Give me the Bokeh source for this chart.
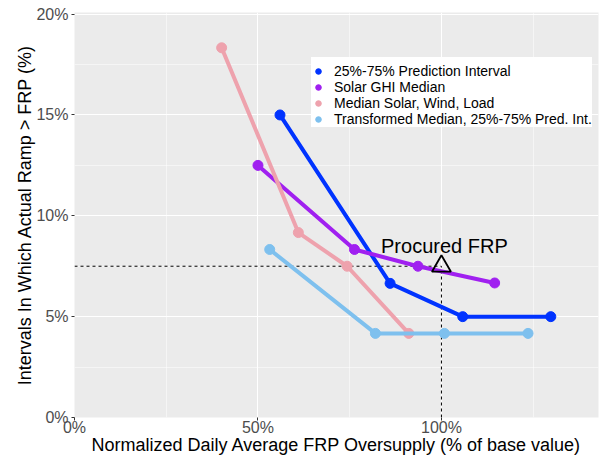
from bokeh.plotting import figure
from bokeh.models import Range1d, FixedTicker, Legend, LegendItem, Label
from bokeh.embed import file_html
from bokeh.resources import INLINE

FONT = "Liberation Sans"

# ---- data ----
series_names = [
    "25%-75% Prediction Interval",
    "Solar GHI Median",
    "Median Solar, Wind, Load",
    "Transformed Median, 25%-75% Pred. Int.",
]
series_colors = ["#0033FF", "#A020F0", "#EEA2AD", "#7EC0EE"]

pi_x = [56.0, 86.0, 105.8, 129.8]
pi_y = [15.0, 6.65, 5.0, 5.0]
ghi_x = [50.0, 76.3, 93.6, 114.5]
ghi_y = [12.5, 8.33, 7.5, 6.67]
swl_x = [40.1, 61.0, 74.3, 91.1]
swl_y = [18.33, 9.17, 7.5, 4.17]
tm_x = [53.2, 82.0, 100.8, 123.6]
tm_y = [8.33, 4.17, 4.17, 4.17]

procured_x = 100.0
procured_y = 7.5
procured_label = "Procured FRP"

x_ticks = [0, 50, 100]
x_tick_labels = ["0%", "50%", "100%"]
x_minor = [25, 75, 125]
y_ticks = [0, 5, 10, 15, 20]
y_tick_labels = ["0%", "5%", "10%", "15%", "20%"]
y_minor = [2.5, 7.5, 12.5, 17.5]

x_title = "Normalized Daily Average FRP Oversupply (% of base value)"
y_title = "Intervals In Which Actual Ramp > FRP (%)"

# ---- figure ----
p = figure(width=613, height=458, output_backend="svg", toolbar_location=None,
           x_range=Range1d(0, 142.8), y_range=Range1d(0, 20.08),
           min_border_left=74, min_border_right=15, min_border_top=12,
           min_border_bottom=41)
p.background_fill_color = "#EBEBEB"
p.border_fill_color = "white"
p.outline_line_color = None

p.xaxis.ticker = FixedTicker(ticks=x_ticks, minor_ticks=x_minor)
p.yaxis.ticker = FixedTicker(ticks=y_ticks, minor_ticks=y_minor)
p.xaxis.major_label_overrides = dict(zip(x_ticks, x_tick_labels))
p.yaxis.major_label_overrides = dict(zip(y_ticks, y_tick_labels))
p.xaxis.axis_label = x_title
p.yaxis.axis_label = y_title

for ax in (p.xaxis, p.yaxis):
    ax.axis_line_color = None
    ax.major_tick_line_color = "#333333"
    ax.major_tick_in = 0
    ax.major_tick_out = 3
    ax.minor_tick_line_color = None
    ax.major_label_text_color = "#4D4D4D"
    ax.major_label_text_font = FONT
    ax.major_label_text_font_size = "16px"
    ax.axis_label_text_font = FONT
    ax.axis_label_text_font_size = "18px"
    ax.axis_label_text_font_style = "normal"
    ax.axis_label_text_color = "black"
p.xaxis.major_label_standoff = -3
p.xaxis.axis_label_standoff = -4
p.yaxis.major_label_standoff = 2
p.yaxis.axis_label_standoff = -2

for g in (p.xgrid, p.ygrid):
    g.grid_line_color = "white"
    g.grid_line_width = 1.1
    g.minor_grid_line_color = "white"
    g.minor_grid_line_width = 0.5

# reference lines
p.line([0, procured_x], [procured_y, procured_y], line_color="black",
       line_width=1, line_dash="3 3")
p.line([procured_x, procured_x], [0, procured_y], line_color="black",
       line_width=1, line_dash="3 3")

series = [(pi_x, pi_y), (ghi_x, ghi_y), (swl_x, swl_y), (tm_x, tm_y)]
items = []
for (xs, ys), name, col in zip(series, series_names, series_colors):
    p.line(xs, ys, line_color=col, line_width=4)
    r = p.circle(xs, ys, radius=5, radius_units="screen", fill_color=col,
                 line_color=col)
    items.append(LegendItem(label=name, renderers=[r]))

p.scatter([procured_x], [procured_y], marker="triangle", size=19,
          fill_color=None, line_color="black", line_width=1.8)
p.add_layout(Label(x=procured_x + 0.8, y=procured_y + 1.0, text=procured_label,
                   text_font=FONT, text_font_size="20px", text_color="black",
                   text_align="center", text_baseline="middle"))

legend = Legend(items=items, location=(237, 290), orientation="vertical")
legend.title = " "
legend.title_text_font_size = "6px"
legend.title_standoff = 0
legend.label_text_font = FONT
legend.label_text_font_size = "14px"
legend.label_text_color = "black"
legend.label_height = 14
legend.glyph_height = 14
legend.glyph_width = 14
legend.spacing = 0
legend.padding = 1
legend.margin = 0
legend.label_standoff = 9
legend.background_fill_color = "white"
legend.background_fill_alpha = 1
legend.border_line_color = None
p.add_layout(legend, "center")

open("out.html", "w").write(file_html(p, INLINE))
